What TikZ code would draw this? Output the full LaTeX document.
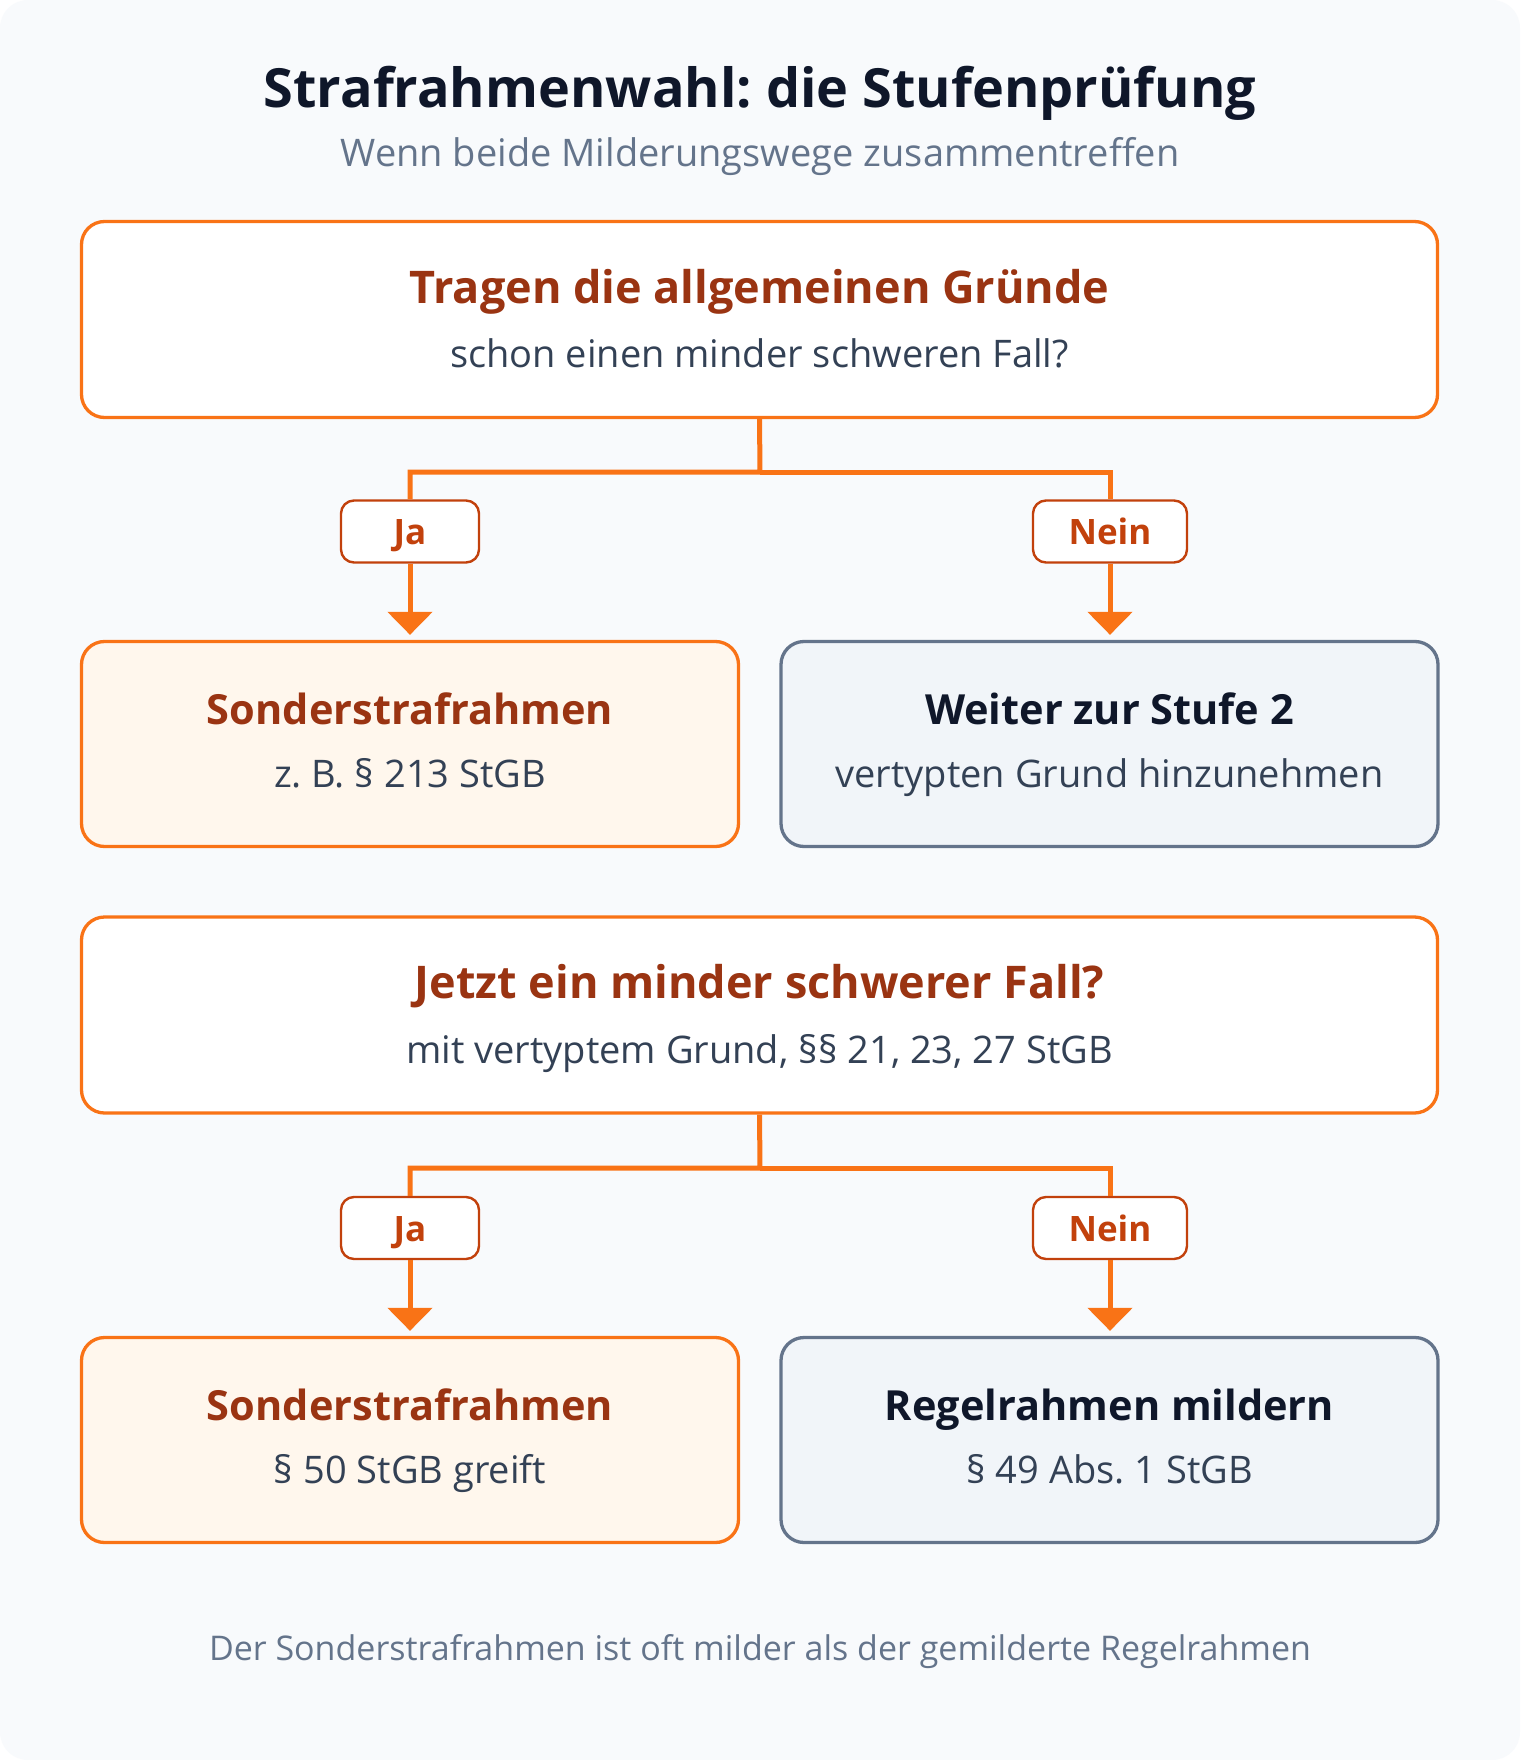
\documentclass[tikz,border=0pt]{standalone}
\usepackage{fontspec}
\setmainfont{Open Sans}
\frenchspacing
\usetikzlibrary{arrows.meta}
\usetikzlibrary{calc}
\usetikzlibrary{positioning}

\definecolor{cardbg}{HTML}{F8FAFC}
\definecolor{accent}{HTML}{F97316}
\definecolor{accentdark}{HTML}{9A3412}
\definecolor{labelred}{HTML}{C2410C}
\definecolor{accentfill}{HTML}{FFF7ED}
\definecolor{slatefill}{HTML}{F1F5F9}
\definecolor{slateline}{HTML}{64748B}
\definecolor{ink}{HTML}{0F172A}
\definecolor{bodyink}{HTML}{334155}

\tikzset{
  box/.style={rounded corners=23pt,line width=3.3pt,inner sep=0pt},
  question/.style={box,draw=accent,fill=white,minimum width=1356pt,minimum height=196pt},
  yesbox/.style={box,draw=accent,fill=accentfill,minimum width=657pt,minimum height=205pt},
  nobox/.style={box,draw=slateline,fill=slatefill,minimum width=657pt,minimum height=205pt},
  answer/.style={draw=labelred,fill=white,line width=2.4pt,rounded corners=13pt,
    minimum height=62pt,inner sep=0pt,text height=26pt,text depth=0pt,
    text=labelred,font=\fontsize{35}{40}\selectfont\bfseries},
  head/.style={anchor=base,text=accentdark,font=\fontsize{45}{52}\selectfont\bfseries},
  boxhead/.style={head,font=\fontsize{41.5}{48}\selectfont\bfseries},
  body/.style={anchor=base,text=bodyink,font=\fontsize{38}{44}\selectfont},
  link/.style={draw=accent,line width=5pt},
  arrow/.style={link,-{Triangle[width=44pt,length=23pt]},shorten >=5pt}
}

\newcommand\fork[4]{
  \draw[link] (#1.south) -- (#2) -| (#3.north);
  \draw[link] (#2) -| (#4.north);
}

\begin{document}
\begin{tikzpicture}[x=1pt,y=-1pt]
  \useasboundingbox (0,0) rectangle (1520,1760);
  \fill[white] (0,0) rectangle (1520,1760);
  \fill[cardbg,rounded corners=28pt] (0,0) rectangle (1520,1760);

  % heading
  \node[anchor=base,text=ink,font=\fontsize{54}{62}\selectfont\bfseries] (title) at (760,108)
    {Strafrahmenwahl: die Stufenprüfung};
  \node[anchor=base,text=slateline,font=\fontsize{38}{44}\selectfont] (subtitle) at (760,167)
    {Wenn beide Milderungswege zusammentreffen};

  % stage 1
  \node[question] (q1) at (759.5,319.5) {};
  \node[head] (q1head) at ([yshift=16pt]q1.center) {Tragen die allgemeinen Gründe};
  \node[body] (q1body) at ([yshift=-48pt]q1.center) {schon einen minder schweren Fall?};

  \coordinate (fork1) at (760,472);
  \node[answer,minimum width=138pt] (ja1) at (410,531.5) {Ja};
  \node[answer,minimum width=154pt] (nein1) at (1110,531.5) {Nein};
  \fork{q1}{fork1}{ja1}{nein1}

  \node[yesbox] (a1) at (410,744) {};
  \node[boxhead] (a1head) at ([yshift=20pt]a1.center) {Sonderstrafrahmen};
  \node[body] (a1body) at ([yshift=-43pt]a1.center) {z. B. § 213 StGB};

  \node[nobox] (b1) at (1109.5,744) {};
  \node[boxhead,text=ink] (b1head) at ([yshift=20pt]b1.center) {Weiter zur Stufe 2};
  \node[body] (b1body) at ([yshift=-43pt]b1.center) {vertypten Grund hinzunehmen};

  \draw[arrow] (ja1.south) -- (ja1.south |- a1.north);
  \draw[arrow] (nein1.south) -- (nein1.south |- b1.north);

  % stage 2
  \node[question] (q2) at (759.5,1015) {};
  \node[head] (q2head) at ([yshift=17pt]q2.center) {Jetzt ein minder schwerer Fall?};
  \node[body] (q2body) at ([yshift=-48pt]q2.center) {mit vertyptem Grund, §§ 21, 23, 27 StGB};

  \coordinate (fork2) at (760,1168);
  \node[answer,minimum width=138pt] (ja2) at (410,1228) {Ja};
  \node[answer,minimum width=154pt] (nein2) at (1110,1228) {Nein};
  \fork{q2}{fork2}{ja2}{nein2}

  \node[yesbox] (a2) at (410,1440) {};
  \node[boxhead] (a2head) at ([yshift=20pt]a2.center) {Sonderstrafrahmen};
  \node[body] (a2body) at ([yshift=-43pt]a2.center) {§ 50 StGB greift};

  \node[nobox] (b2) at (1109.5,1440) {};
  \node[boxhead,text=ink] (b2head) at ([yshift=20pt]b2.center) {Regelrahmen mildern};
  \node[body] (b2body) at ([yshift=-43pt]b2.center) {§ 49 Abs. 1 StGB};

  \draw[arrow] (ja2.south) -- (ja2.south |- a2.north);
  \draw[arrow] (nein2.south) -- (nein2.south |- b2.north);

  % footer
  \node[anchor=base,text=slateline,font=\fontsize{34}{40}\selectfont] (note) at (760,1660)
    {Der Sonderstrafrahmen ist oft milder als der gemilderte Regelrahmen};
\end{tikzpicture}
\end{document}
